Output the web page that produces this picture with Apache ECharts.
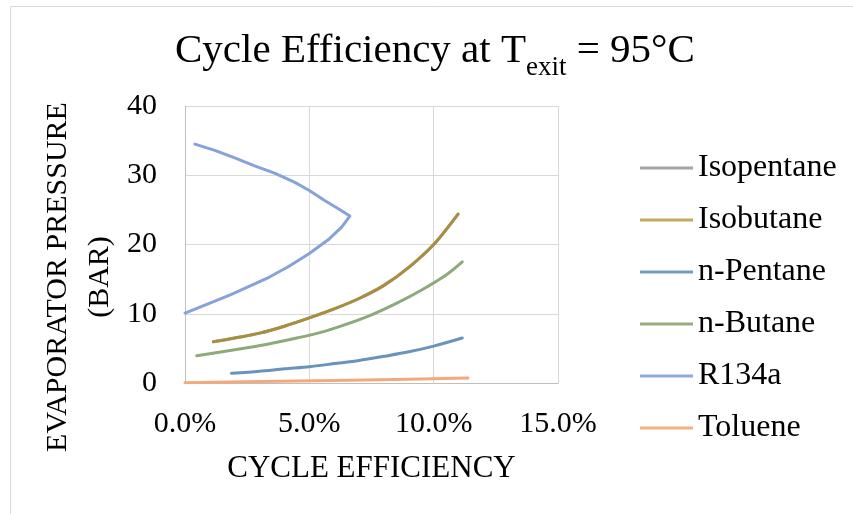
<!DOCTYPE html>
<html><head><meta charset="utf-8">
<script src="https://cdn.jsdelivr.net/npm/echarts@6/dist/echarts.min.js"></script>
<style>html,body{margin:0;padding:0;background:#fff}#c{width:853px;height:514px}
#pre{position:absolute;left:-9999px;top:0;font-family:'Liberation Serif';font-size:30px}</style>
</head><body><div id="pre">Preload Liberation Serif 0123456789%</div><div id="c"></div>
<script>
// Cycle efficiency (%) vs evaporator pressure (bar)
const seriesNames = ['Isopentane','Isobutane','n-Pentane','n-Butane','R134a','Toluene'];
const xTicks = [0, 5, 10, 15];
const yTicks = [0, 10, 20, 30, 40];
const isopentane = [[1.14,5.95],[2,6.5],[3,7.2],[4,8.2],[5,9.4],[6,10.7],[7,12.2],[8,14.1],[9,16.7],[10,20.0],[10.98,24.4]];
const isobutane  = [[1.14,5.95],[2,6.5],[3,7.2],[4,8.2],[5,9.4],[6,10.7],[7,12.2],[8,14.1],[9,16.7],[10,20.0],[10.98,24.4]];
const nPentane   = [[1.87,1.4],[3,1.7],[4,2.05],[5,2.35],[6,2.8],[7,3.25],[8,3.85],[9,4.5],[10,5.33],[11.15,6.5]];
const nButane    = [[0.47,3.95],[1.5,4.5],[2.5,5.1],[3.5,5.75],[4.5,6.5],[5.5,7.35],[6.5,8.5],[7.5,9.85],[8.5,11.5],[9.5,13.4],[10.5,15.6],[11.15,17.5]];
const r134a      = [[0.4,34.5],[1.2,33.6],[2.0,32.5],[2.8,31.35],[3.6,30.3],[4.4,29.0],[5.0,27.8],[5.6,26.4],[6.2,25.1],[6.63,24.1],
                    [6.3,22.5],[5.8,20.8],[5.0,18.7],[4.2,16.9],[3.4,15.3],[2.6,14.0],[1.8,12.7],[0.9,11.4],[0.0,10.1]];
const toluene    = [[0.0,0.05],[3.0,0.2],[6.0,0.35],[9.0,0.55],[11.38,0.72]];

const lineColors = ['#A5A5A5','#A88E3E','#6A93BC','#8CAA7A','#84A3DA','#F3A97C'];
const legendColors = ['#A5A5A5','#C4A85C','#7A9CC0','#96AE84','#8FAADC','#F4B183'];
const dataSets = [isopentane, isobutane, nPentane, nButane, r134a, toluene];
const smoothing = [0.3, 0.3, 0.3, 0.3, false, false];

const font = "Liberation Serif";
const option = {
  animation: false,
  backgroundColor: '#fff',
  textStyle: {fontFamily: font},
  title: {
    text: '{a|Cycle Efficiency at T}{s|exit}{a| = 95°C}',
    left: 170, top: 26,
    textStyle: {
      fontFamily: font, fontWeight: 'normal',
      rich: {
        a: {fontFamily: font, fontSize: 41, fontWeight: 'normal', color: '#000', verticalAlign: 'bottom', lineHeight: 41},
        s: {fontFamily: font, fontSize: 27, fontWeight: 'normal', color: '#000', verticalAlign: 'bottom', lineHeight: 27, padding: [0,0,-9,0]}
      }
    }
  },
  grid: {left: 185, top: 106, right: 295, bottom: 131, containLabel: false},
  legend: {
    orient: 'vertical', left: 635, top: 147,
    icon: 'rect', itemWidth: 53, itemHeight: 3, itemGap: 20,
    textStyle: {fontFamily: font, fontSize: 32, color: '#000', lineHeight: 32},
    data: seriesNames.map((n, i) => ({name: n, itemStyle: {color: legendColors[i]}}))
  },
  xAxis: {
    type: 'value', min: xTicks[0], max: xTicks[xTicks.length-1], interval: 5,
    name: 'CYCLE EFFICIENCY', nameLocation: 'middle', nameGap: 70,
    nameTextStyle: {fontFamily: font, fontSize: 31, color: '#000'},
    axisLine: {show: true, lineStyle: {color: '#BFBFBF', width: 1}},
    axisTick: {show: false},
    axisLabel: {fontFamily: font, fontSize: 30, color: '#000', margin: 26, formatter: v => v.toFixed(1) + '%'},
    splitLine: {show: true, lineStyle: {color: '#D9D9D9', width: 1}}
  },
  yAxis: {
    type: 'value', min: yTicks[0], max: yTicks[yTicks.length-1], interval: 10,
    axisLine: {show: true, lineStyle: {color: '#BFBFBF', width: 1}},
    axisTick: {show: false},
    axisLabel: {fontFamily: font, fontSize: 30, color: '#000', margin: 28},
    splitLine: {show: true, lineStyle: {color: '#D9D9D9', width: 1}}
  },
  graphic: [
    {type: 'rect', left: 8, top: 4, shape: {width: 900, height: 600}, style: {fill: 'none', stroke: '#D9D9D9', lineWidth: 1}, z: -1, silent: true},
    {type: 'text', x: 79, y: 277, rotation: Math.PI/2,
     style: {text: 'EVAPORATOR PRESSURE\n(BAR)', font: '30px "Liberation Serif"', fill: '#000', align: 'center', verticalAlign: 'middle', lineHeight: 42}}
  ],
  series: seriesNames.map((n, i) => ({
    name: n, type: 'line', data: dataSets[i], smooth: smoothing[i], smoothMonotone: 'none',
    showSymbol: false, symbol: 'none',
    lineStyle: {color: lineColors[i], width: 3, cap: 'round', join: 'round'},
    itemStyle: {color: lineColors[i]},
    z: i === 0 ? 1 : 2
  }))
};
const chart = echarts.init(document.getElementById('c'));
chart.setOption(option);
function redraw() { chart.clear(); chart.setOption(option, true); }
if (document.fonts && document.fonts.load) {
  Promise.all([document.fonts.load('30px "Liberation Serif"'), document.fonts.ready]).then(redraw);
}
setTimeout(redraw, 200);
</script>
</body></html>
